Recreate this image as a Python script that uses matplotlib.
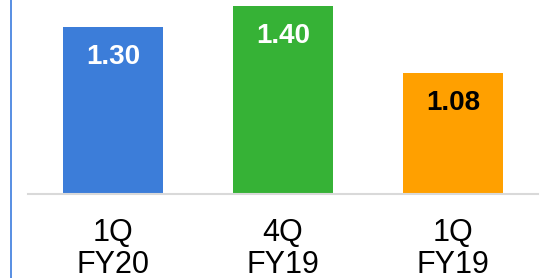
import matplotlib.pyplot as plt
from matplotlib.lines import Line2D

# данные
quarters = ['1Q\nFY20', '4Q\nFY19', '1Q\nFY19']
values = [1.30, 1.40, 1.08]
bar_colors = ['#3c7dd9', '#36b236', '#ffa000']
text_colors = ['white', 'white', 'black']

plt.rcParams['font.family'] = ['Liberation Sans', 'DejaVu Sans']

fig = plt.figure(figsize=(5.46, 2.78), dpi=100)
ax = fig.add_axes([28 / 546, 84 / 278, 510 / 546, 194 / 278])

x = range(len(values))
ax.bar(x, values, width=0.59, color=bar_colors, bottom=0)
ax.set_xlim(-0.5, 2.5)
ax.set_ylim(0.5, 1.43)

for i, v in enumerate(values):
    ax.text(i, v - 0.143, f'{v:.2f}', ha='center', va='center',
            fontsize=20, fontweight='bold', color=text_colors[i])

ax.set_xticks(list(x))
ax.set_xticklabels(quarters, fontsize=22, linespacing=1.1)
ax.tick_params(axis='x', length=0, pad=17)
ax.set_yticks([])

for s in ['top', 'right', 'left']:
    ax.spines[s].set_visible(False)
ax.spines['bottom'].set_color('#d9d9d9')
ax.spines['bottom'].set_linewidth(1.5)

# синяя вертикальная линия слева
fig.add_artist(Line2D([10.5 / 546, 10.5 / 546], [0, 1], color='#4a86e0', linewidth=1.3))

fig.savefig('out.png', dpi=100)
